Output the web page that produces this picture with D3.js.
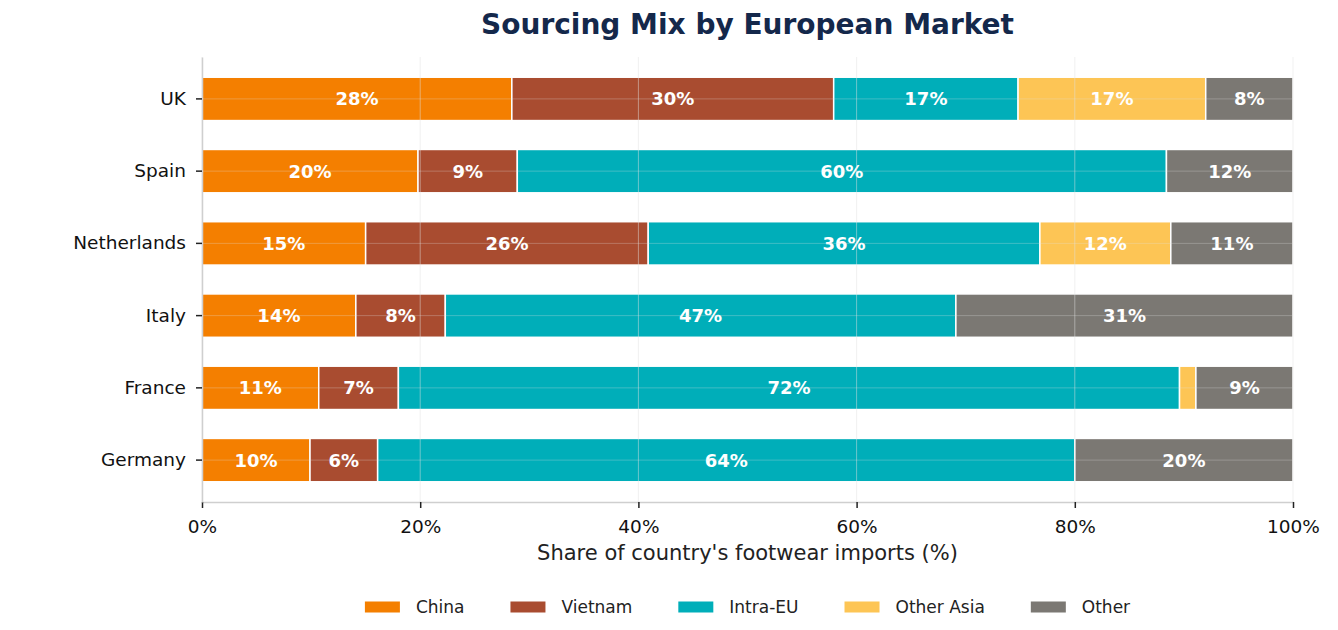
<!DOCTYPE html>
<html lang="en">
<head>
  <meta charset="UTF-8">
  <title>Sourcing Mix by European Market</title>
  <style>
    body { margin: 0; background: #fff; }
    text { font-family: 'DejaVu Sans', sans-serif; }
    .grid line { stroke: #e4e4e4; stroke-opacity: 0.8; }
  </style>
</head>
<body>
  <div id="chart"></div>
  <script src="https://cdn.jsdelivr.net/npm/d3@7/dist/d3.min.js"></script>
  <script>
    // Markets, bottom to top as in the picture
    const markets = ['Germany', 'France', 'Italy', 'Netherlands', 'Spain', 'UK'];
    const sources = ['China', 'Vietnam', 'Intra-EU', 'Other Asia', 'Other'];
    const colors = ['#F47F00', '#A94C30', '#00AEB9', '#FDC555', '#7B7873'];

    // Share of imports (%) per source, in the order of markets
    const china     = [9.9, 10.7, 14.1, 15.0, 19.8, 28.4];
    const vietnam   = [6.2, 7.3, 8.2, 25.9, 9.1, 29.5];
    const intraEU   = [63.9, 71.6, 46.8, 35.9, 59.5, 16.9];
    const otherAsia = [0, 1.5, 0, 12.0, 0, 17.2];
    const other     = [20.0, 8.9, 30.9, 11.2, 11.6, 8.0];

    const xTicks = [0, 20, 40, 60, 80, 100];

    const W = 1338, H = 630;
    const margin = { top: 57, right: 45, bottom: 128, left: 202 };
    const width = W - margin.left - margin.right;
    const height = H - margin.top - margin.bottom;

    const svg = d3.select('#chart').append('svg')
      .attr('width', W)
      .attr('height', H);

    const g = svg.append('g')
      .attr('transform', `translate(${margin.left}, ${margin.top})`);

    // build rows for the stack
    const rows = markets.map((m, i) => ({
      market: m,
      'China': china[i],
      'Vietnam': vietnam[i],
      'Intra-EU': intraEU[i],
      'Other Asia': otherAsia[i],
      'Other': other[i]
    }));
    const stacked = d3.stack().keys(sources)(rows);

    const xScale = d3.scaleLinear().domain([0, 100]).range([0, width]);
    const yScale = d3.scaleBand()
      .domain(markets.slice().reverse())
      .range([0, height])
      .paddingInner(0.4)
      .paddingOuter(0.28);
    const colorScale = d3.scaleOrdinal().domain(sources).range(colors);

    // bars
    const layers = g.selectAll('.layer')
      .data(stacked).enter()
      .append('g')
      .attr('class', 'layer')
      .style('fill', d => colorScale(d.key));

    layers.selectAll('rect')
      .data(d => d.filter(p => p[1] - p[0] > 0)).enter()
      .append('rect')
      .attr('x', d => xScale(d[0]))
      .attr('y', d => yScale(d.data.market))
      .attr('width', d => xScale(d[1]) - xScale(d[0]))
      .attr('height', yScale.bandwidth())
      .style('stroke', '#fff')
      .style('stroke-width', 1.5);

    // grid on top of bars, very light
    g.append('g')
      .attr('class', 'grid')
      .selectAll('line')
      .data(xTicks).enter()
      .append('line')
      .attr('x1', d => xScale(d)).attr('x2', d => xScale(d))
      .attr('y1', 0).attr('y2', height)
      .style('opacity', 0.6);

    g.append('g')
      .attr('class', 'grid')
      .selectAll('line')
      .data(markets).enter()
      .append('line')
      .attr('x1', 0).attr('x2', width)
      .attr('y1', d => yScale(d) + yScale.bandwidth() / 2)
      .attr('y2', d => yScale(d) + yScale.bandwidth() / 2)
      .style('opacity', 0.35);

    // value labels
    layers.selectAll('text')
      .data(d => d.filter(p => p[1] - p[0] >= 3)).enter()
      .append('text')
      .attr('x', d => xScale((d[0] + d[1]) / 2))
      .attr('y', d => yScale(d.data.market) + yScale.bandwidth() / 2)
      .attr('dy', '0.36em')
      .style('text-anchor', 'middle')
      .style('fill', '#fff')
      .style('font-weight', 'bold')
      .style('font-size', '18px')
      .text(d => Math.round(d[1] - d[0]) + '%');

    // axes
    const xAxis = d3.axisBottom(xScale)
      .tickValues(xTicks)
      .tickFormat(d => d + '%')
      .tickSize(6)
      .tickSizeOuter(0)
      .tickPadding(12);
    const yAxis = d3.axisLeft(yScale)
      .tickSize(6)
      .tickSizeOuter(0)
      .tickPadding(10);

    const xAxisGroup = g.append('g')
      .attr('transform', `translate(0, ${height})`)
      .call(xAxis);
    const yAxisGroup = g.append('g')
      .call(yAxis);

    [xAxisGroup, yAxisGroup].forEach(ax => {
      ax.select('.domain').style('stroke', '#cfcfcf').style('stroke-width', 1.5);
      ax.selectAll('.tick line').style('stroke', '#222').style('stroke-width', 1.5);
      ax.selectAll('.tick text')
        .style('font-family', "'DejaVu Sans', sans-serif")
        .style('font-size', '18.5px')
        .style('fill', '#111');
    });

    // x axis label
    g.append('text')
      .attr('x', width / 2)
      .attr('y', height + 58)
      .style('text-anchor', 'middle')
      .style('font-size', '21px')
      .style('fill', '#222')
      .text("Share of country's footwear imports (%)");

    // title
    svg.append('text')
      .attr('x', margin.left + width / 2)
      .attr('y', 34)
      .style('text-anchor', 'middle')
      .style('font-size', '28px')
      .style('font-weight', 'bold')
      .style('fill', '#14284B')
      .text('Sourcing Mix by European Market');

    // legend, centred under the plot
    const legend = svg.append('g');
    const swatchW = 35, swatchH = 11, textGap = 16, colGap = 46;
    let lx = 0;
    sources.forEach(s => {
      const item = legend.append('g').attr('transform', `translate(${lx}, 0)`);
      item.append('rect')
        .attr('y', -swatchH / 2)
        .attr('width', swatchW)
        .attr('height', swatchH)
        .style('fill', colorScale(s));
      const t = item.append('text')
        .attr('x', swatchW + textGap)
        .attr('dy', '0.36em')
        .style('font-size', '17px')
        .style('fill', '#222')
        .text(s);
      lx += swatchW + textGap + t.node().getComputedTextLength() + colGap;
    });
    const legendW = lx - colGap;
    legend.attr('transform', `translate(${margin.left + width / 2 - legendW / 2}, 607)`);
  </script>
</body>
</html>
